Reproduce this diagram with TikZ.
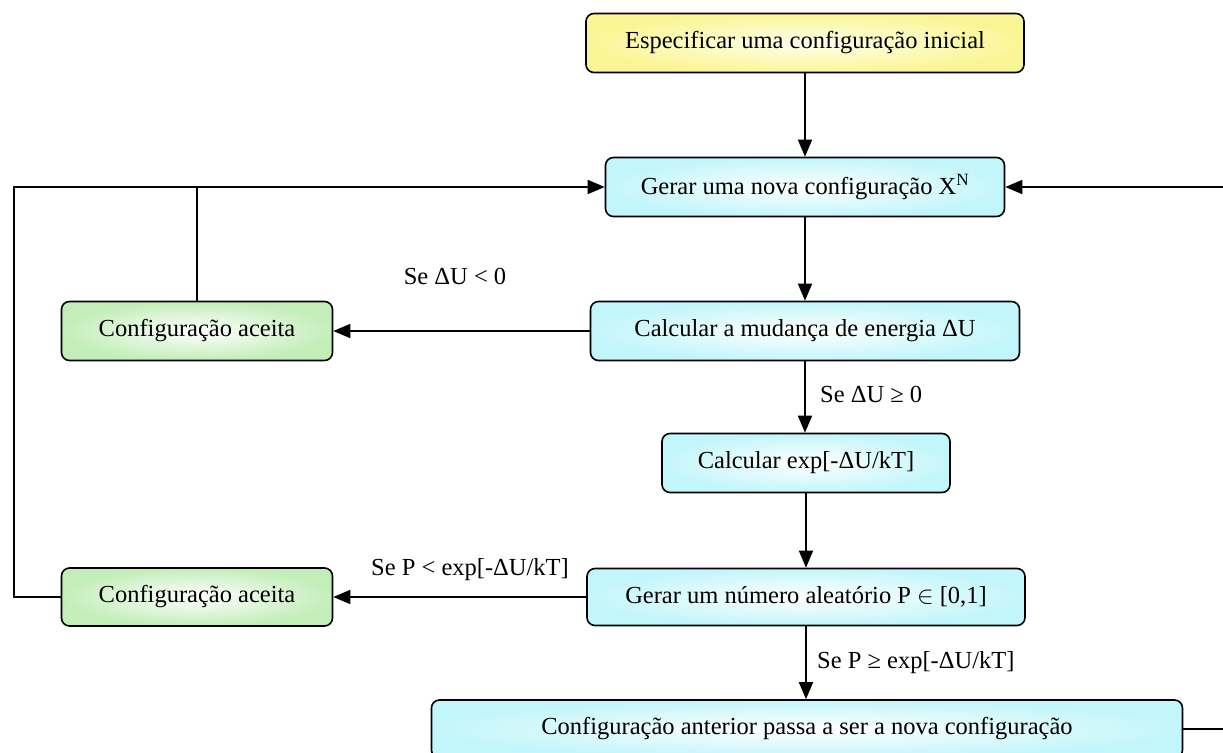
\documentclass[tikz,border=0pt]{standalone}
\usepackage{fontspec}
\setmainfont{Liberation Serif}
\usetikzlibrary{arrows.meta}
\begin{document}
\begin{tikzpicture}[x=1pt,y=-1pt,
  box/.style={draw, line width=1.6pt, rounded corners=8pt, inner sep=0pt, font=\fontsize{24.5}{28}\selectfont},
  ybox/.style={box, inner color=yellow!8, outer color={rgb,255:red,250;green,246;blue,150}},
  cbox/.style={box, inner color=white, outer color={rgb,255:red,195;green,246;blue,250}},
  gbox/.style={box, inner color=white, outer color={rgb,255:red,195;green,238;blue,185}},
  conn/.style={line width=1.6pt},
  arr/.style={conn, -{Triangle[length=17pt,width=14pt]}},
  lbl/.style={font=\fontsize{24.5}{28}\selectfont, inner sep=0pt}]
\useasboundingbox (0,0) rectangle (1223,752);
\clip (0,0) rectangle (1223,752);
\node[ybox, minimum width=438pt, minimum height=59pt] (top) at (805,43) {Especificar uma configuração inicial};
\node[cbox, minimum width=399pt, minimum height=59pt] (gerar) at (805,187) {Gerar uma nova configuração X\textsuperscript{N}};
\node[cbox, minimum width=429pt, minimum height=59pt] (calcU) at (805,331) {Calcular a mudança de energia ΔU};
\node[cbox, minimum width=288pt, minimum height=59pt] (calcexp) at (806,463) {Calcular exp[-ΔU/kT]};
\node[cbox, minimum width=438pt, minimum height=57pt] (gerarP) at (806,597) {Gerar um número aleatório P $\in$ [0,1]};
\node[cbox, minimum width=751pt, minimum height=58pt] (ant) at (807,729) {Configuração anterior passa a ser a nova configuração};
\node[gbox, minimum width=271pt, minimum height=59pt] (g1) at (197,331) {Configuração aceita};
\node[gbox, minimum width=271pt, minimum height=58pt] (g2) at (197,597) {Configuração aceita};
\coordinate (lft) at (14,187);
\coordinate (rgt) at (1240,187);
\draw[arr] (top.south) -- (top.south |- gerar.north);
\draw[arr] (gerar.south) -- (gerar.south |- calcU.north);
\draw[arr] (calcU.west) -- (g1.east);
\draw[arr] (calcU.south) -- (calcU.south |- calcexp.north);
\draw[arr] (calcexp.south) -- (calcexp.south |- gerarP.north);
\draw[arr] (gerarP.west) -- (g2.east);
\draw[arr] (gerarP.south) -- (gerarP.south |- ant.north);
\draw[arr] (g2.west) -| (lft) -- (gerar.west);
\draw[conn] (g1.north) -- (g1.north |- gerar.west);
\draw[arr] (ant.east) -| (rgt) -- (gerar.east);
\node[lbl] (l1) at (455,276) {Se ΔU < 0};
\node[lbl, anchor=west] (l2) at (820,394) {Se ΔU ≥ 0};
\node[lbl] (l3) at (470,570) {Se P < exp[-ΔU/kT]};
\node[lbl, anchor=west] (l4) at (817,663) {Se P ≥ exp[-ΔU/kT]};
\end{tikzpicture}
\end{document}
